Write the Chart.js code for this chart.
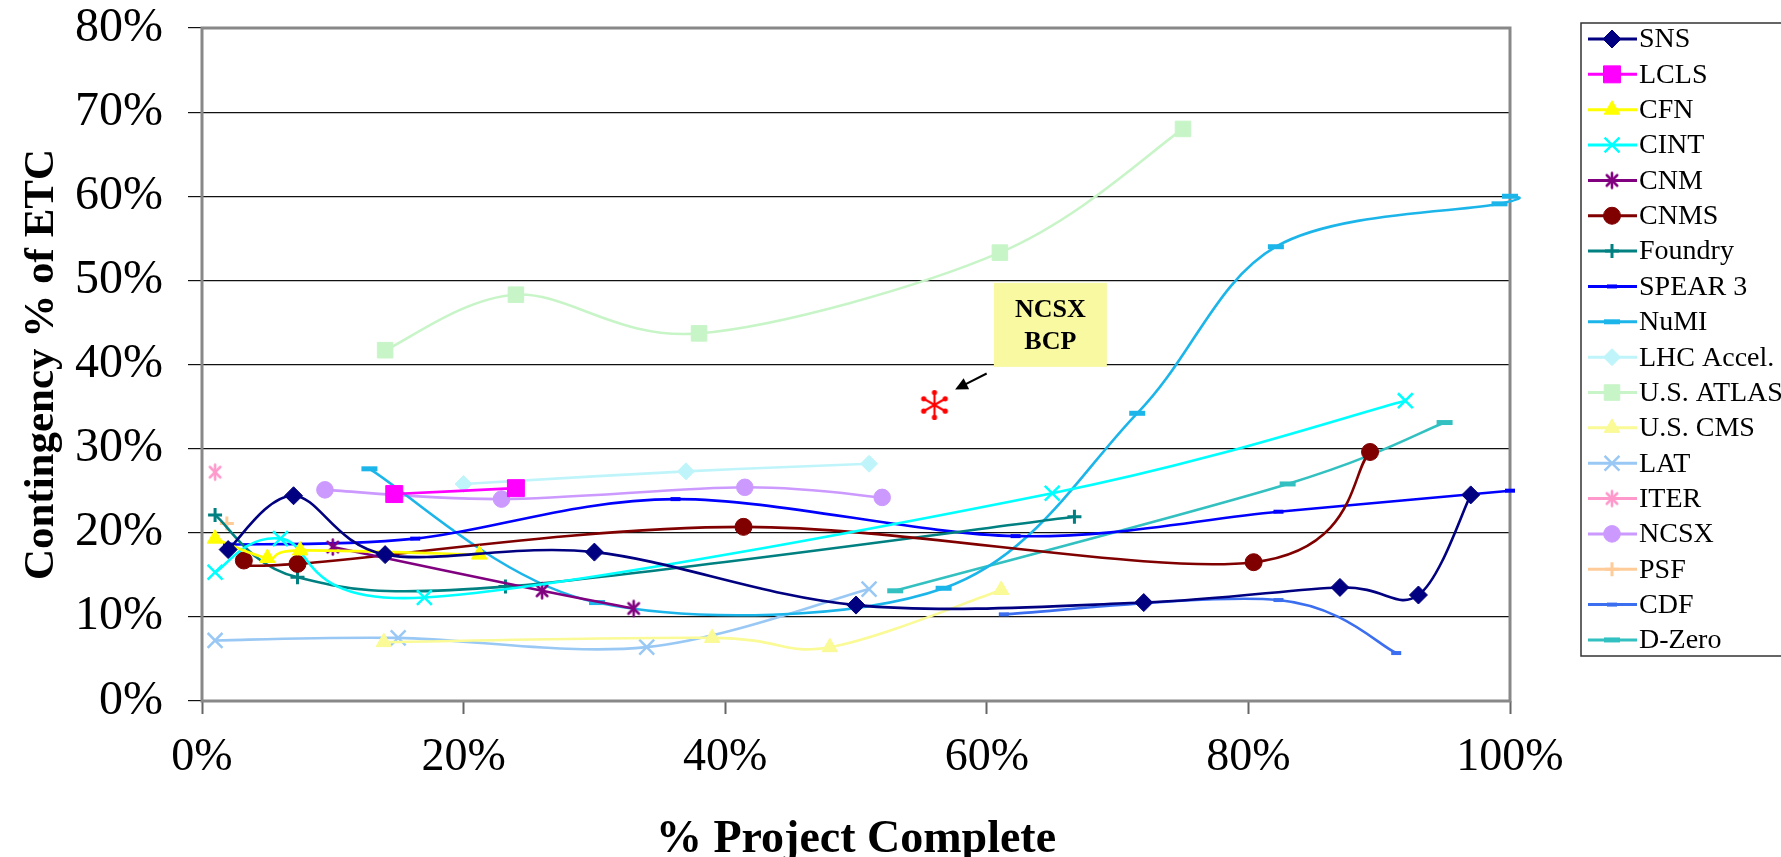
<!DOCTYPE html>
<html>
<head>
<meta charset="utf-8">
<title>Contingency vs % complete</title>
<script src="https://cdn.jsdelivr.net/npm/chart.js@4.4.1/dist/chart.umd.min.js"></script>
<style>
  html, body { margin: 0; padding: 0; background: #fff; }
  #wrap { width: 1781px; height: 857px; }
</style>
</head>
<body>
<div id="wrap"><canvas id="chart" width="1781" height="857"></canvas></div>
<script>
// project names, in legend order
const seriesNames = ['SNS', 'LCLS', 'CFN', 'CINT', 'CNM', 'CNMS', 'Foundry', 'SPEAR 3', 'NuMI',
  'LHC Accel.', 'U.S. ATLAS', 'U.S. CMS', 'LAT', 'ITER', 'NCSX', 'PSF', 'CDF', 'D-Zero'];

// x = % project complete, y = contingency % of ETC
const snsX = [2, 7, 14, 30, 50, 72, 87, 93, 97];
const snsY = [18.0, 24.4, 17.4, 17.7, 11.4, 11.7, 13.5, 12.6, 24.5];
const lclsX = [14.7, 24];
const lclsY = [24.6, 25.3];
const cfnX = [1, 5, 7.5, 21.2];
const cfnY = [19.3, 17.0, 17.9, 17.4];
const cintX = [1, 6, 17, 65, 92];
const cintY = [15.3, 19.3, 12.3, 24.7, 35.7];
const cnmX = [10, 26, 33];
const cnmY = [18.3, 13.1, 11.0];
const cnmsX = [3.2, 7.3, 41.4, 80.4, 89.3];
const cnmsY = [16.7, 16.3, 20.7, 16.5, 29.6];
const foundryX = [1, 7.3, 23.2, 66.7];
const foundryY = [22.1, 14.7, 13.6, 21.9];
const spearX = [2, 16.3, 36.2, 62.2, 82.3, 100];
const spearY = [18.6, 19.3, 24.0, 19.6, 22.5, 25.0];
const numiX = [12.8, 30.2, 56.7, 71.5, 82.1, 99.2, 100];
const numiY = [27.6, 11.7, 13.4, 34.2, 54.0, 59.1, 60.0];
const lhcX = [20, 37, 51];
const lhcY = [25.8, 27.3, 28.2];
const atlasX = [14, 24, 38, 61, 75];
const atlasY = [41.7, 48.3, 43.7, 53.3, 68.0];
const cmsX = [13.9, 39, 48, 61.1];
const cmsY = [7.0, 7.5, 6.4, 13.2];
const latX = [1, 15, 34, 51];
const latY = [7.2, 7.5, 6.4, 13.3];
const iterX = [1];
const iterY = [27.2];
const ncsxX = [9.4, 22.9, 41.5, 52];
const ncsxY = [25.1, 24.0, 25.4, 24.2];
const psfX = [1.9];
const psfY = [21.1];
const cdfX = [61.3, 82.3, 91.3];
const cdfY = [10.3, 12.0, 5.7];
const dzeroX = [53, 83, 95];
const dzeroY = [13.1, 25.8, 33.1];

// the NCSX baseline point and its call-out
const bcpX = [56];
const bcpY = [35.2];
const bcpText = ['NCSX', 'BCP'];
const bcpBoxAt = [64.86, 44.71];
const bcpArrowFrom = [59.99, 38.93];
const bcpArrowTo = [57.58, 37.03];

const xTickValues = [0, 20, 40, 60, 80, 100];
const yTickValues = [0, 10, 20, 30, 40, 50, 60, 70, 80];

const allX = [snsX, lclsX, cfnX, cintX, cnmX, cnmsX, foundryX, spearX, numiX, lhcX, atlasX, cmsX, latX, iterX, ncsxX, psfX, cdfX, dzeroX];
const allY = [snsY, lclsY, cfnY, cintY, cnmY, cnmsY, foundryY, spearY, numiY, lhcY, atlasY, cmsY, latY, iterY, ncsxY, psfY, cdfY, dzeroY];

// styles (old Excel palette)
const lineColors = ['#000080', '#FF00FF', '#FFFF00', '#00FFFF', '#800080', '#800000', '#008080', '#0000FF', '#1CB5EA',
  '#BFF5FA', '#C8F5C8', '#FAFA96', '#99C8F5', '#FF99CC', '#CC99FF', '#FFCC99', '#3C6EF0', '#33C0C0'];

function asterisk(color, size, angles, lw, tip) {
  const c = document.createElement('canvas');
  c.width = c.height = size;
  const g = c.getContext('2d');
  g.translate(size / 2, size / 2);
  g.strokeStyle = color;
  g.fillStyle = color;
  g.lineWidth = lw;
  g.lineCap = 'round';
  const r = size / 2 - Math.max(lw, tip);
  angles.forEach(a => {
    const dx = Math.cos(a * Math.PI / 180) * r, dy = Math.sin(a * Math.PI / 180) * r;
    g.beginPath();
    g.moveTo(-dx, -dy);
    g.lineTo(dx, dy);
    g.stroke();
    if (tip) {
      g.beginPath(); g.arc(dx, dy, tip, 0, Math.PI * 2); g.fill();
      g.beginPath(); g.arc(-dx, -dy, tip, 0, Math.PI * 2); g.fill();
    }
  });
  return c;
}

const markerStyles = ['rectRot', 'rect', 'triangle', 'crossRot', asterisk('#800080', 20, [90, 45, 135], 2.6, 0), 'circle',
  'cross', 'line', 'line', 'rectRot', 'rect', 'triangle', 'crossRot', asterisk('#FF99CC', 20, [90, 45, 135], 2.6, 0),
  'circle', 'cross', 'line', 'line'];
const markerSizes = [9, 12, 9, 10.5, 9, 8.5, 7, 5, 8, 8.5, 11, 9, 10.5, 9, 8.3, 7, 5, 8];
const markerBorders = [1, 1, 1, 2.5, 1, 1, 3, 4, 5, 1, 1, 1, 2.5, 1, 1, 3, 4, 5];

const bcpStar = asterisk('#FF0000', 30, [90, 30, 150], 2.2, 2.6);

// Excel style smoothing: uniform Catmull-Rom control points
const excelSmooth = {
  id: 'excelSmooth',
  beforeDatasetDraw(chart, args) {
    const line = args.meta.dataset;
    const pts = args.meta.data;
    if (!line || pts.length < 2) return;
    for (let i = 0; i < pts.length; i++) {
      const a = pts[Math.max(i - 1, 0)], p = pts[i], b = pts[Math.min(i + 1, pts.length - 1)];
      const dx = (b.x - a.x) / 6, dy = (b.y - a.y) / 6;
      p.cp1x = p.x - dx; p.cp1y = p.y - dy;
      p.cp2x = p.x + dx; p.cp2y = p.y + dy;
    }
    line._pointsUpdated = true;
  }
};

const plotFrame = {
  id: 'plotFrame',
  beforeDatasetsDraw(chart) {
    const { ctx, chartArea: a } = chart;
    ctx.save();
    ctx.strokeStyle = '#888';
    ctx.lineWidth = 3;
    ctx.strokeRect(a.left, a.top, a.right - a.left, a.bottom - a.top);
    ctx.restore();
  }
};

const bcpNote = {
  id: 'bcpNote',
  afterDatasetsDraw(chart) {
    const { ctx, scales: { x, y } } = chart;
    const cx = x.getPixelForValue(bcpBoxAt[0]), cy = y.getPixelForValue(bcpBoxAt[1]);
    ctx.save();
    ctx.fillStyle = '#F9F9A2';
    ctx.fillRect(cx - 56.5, cy - 42, 113, 84);
    ctx.fillStyle = '#000';
    ctx.font = 'bold 26px "Liberation Serif"';
    ctx.textAlign = 'center';
    ctx.textBaseline = 'middle';
    ctx.fillText(bcpText[0], cx, cy - 15);
    ctx.fillText(bcpText[1], cx, cy + 17);

    const x1 = x.getPixelForValue(bcpArrowFrom[0]), y1 = y.getPixelForValue(bcpArrowFrom[1]);
    const x2 = x.getPixelForValue(bcpArrowTo[0]), y2 = y.getPixelForValue(bcpArrowTo[1]);
    const ang = Math.atan2(y2 - y1, x2 - x1);
    ctx.strokeStyle = '#000';
    ctx.lineWidth = 2;
    ctx.beginPath();
    ctx.moveTo(x1, y1);
    ctx.lineTo(x2 - Math.cos(ang) * 8, y2 - Math.sin(ang) * 8);
    ctx.stroke();
    ctx.beginPath();
    ctx.moveTo(x2, y2);
    ctx.lineTo(x2 - Math.cos(ang - 0.45) * 14, y2 - Math.sin(ang - 0.45) * 14);
    ctx.lineTo(x2 - Math.cos(ang + 0.45) * 14, y2 - Math.sin(ang + 0.45) * 14);
    ctx.closePath();
    ctx.fill();
    ctx.restore();
  }
};

const sideLegend = {
  id: 'sideLegend',
  afterDraw(chart) {
    const ctx = chart.ctx;
    ctx.save();
    ctx.strokeStyle = '#333';
    ctx.lineWidth = 1.5;
    ctx.strokeRect(1581, 23, 260, 633);
    ctx.font = '28px "Liberation Serif"';
    ctx.textBaseline = 'middle';
    chart.data.datasets.slice(0, seriesNames.length).forEach((ds, i) => {
      const ly = 39 + i * 35.35;
      ctx.strokeStyle = ds.borderColor;
      ctx.lineWidth = 3;
      ctx.beginPath();
      ctx.moveTo(1588, ly);
      ctx.lineTo(1637, ly);
      ctx.stroke();
      ctx.fillStyle = ds.pointBackgroundColor;
      ctx.strokeStyle = ds.pointBorderColor;
      ctx.lineWidth = ds.pointBorderWidth;
      Chart.helpers.drawPoint(ctx, { pointStyle: ds.pointStyle, radius: ds.pointRadius, borderWidth: ds.pointBorderWidth, rotation: 0 }, 1612, ly);
      ctx.fillStyle = '#000';
      ctx.fillText(ds.label, 1639, ly + 1);
    });
    ctx.restore();
  }
};

const datasets = seriesNames.map((name, i) => ({
  label: name,
  data: allX[i].map((x, j) => ({ x, y: allY[i][j] })),
  showLine: true,
  borderColor: lineColors[i],
  backgroundColor: lineColors[i],
  borderWidth: 2.6,
  tension: 0.4,
  clip: false,
  pointStyle: markerStyles[i],
  pointRadius: markerSizes[i],
  pointBorderWidth: markerBorders[i],
  pointBorderColor: lineColors[i],
  pointBackgroundColor: lineColors[i],
}));

datasets.push({
  label: 'NCSX BCP',
  data: bcpX.map((x, j) => ({ x, y: bcpY[j] })),
  showLine: false,
  clip: false,
  pointStyle: bcpStar,
  pointRadius: 14,
});

Chart.defaults.font.family = '"Liberation Serif", "Times New Roman", serif';
Chart.defaults.color = '#000';

new Chart(document.getElementById('chart'), {
  type: 'scatter',
  data: { datasets },
  options: {
    responsive: false,
    animation: false,
    devicePixelRatio: 1,
    layout: { padding: { top: 28, right: 271, left: 0, bottom: 0 } },
    plugins: {
      legend: { display: false },
      tooltip: { enabled: false },
    },
    scales: {
      x: {
        type: 'linear',
        min: 0,
        max: 100,
        afterBuildTicks: s => { s.ticks = xTickValues.map(v => ({ value: v })); },
        afterFit: s => { s.height = 156; },
        ticks: { callback: v => v + '%', font: { size: 46 }, padding: 16, maxRotation: 0, color: '#000' },
        grid: { drawOnChartArea: false, tickLength: 13, tickColor: '#666', tickWidth: 2 },
        border: { display: false },
        title: {
          display: true,
          text: '% Project Complete',
          font: { size: 46, weight: 'bold', lineHeight: 0.7 },
          padding: { top: 0, bottom: 1 },
          color: '#000',
        },
      },
      y: {
        type: 'linear',
        min: 0,
        max: 80,
        afterBuildTicks: s => { s.ticks = yTickValues.map(v => ({ value: v })); },
        afterFit: s => {
          s.width = 202;
          // keep the top of the plot where the layout padding puts it
          s.paddingTop = 0;
          s.paddingBottom = 0;
        },
        ticks: { callback: v => v + '%', font: { size: 48 }, padding: 25, color: '#000' },
        grid: { color: '#111', lineWidth: 1.2, tickLength: 14, tickColor: '#111' },
        border: { display: false },
        title: {
          display: true,
          text: 'Contingency % of ETC',
          font: { size: 43, weight: 'bold', lineHeight: 1 },
          padding: { top: 20, bottom: 0 },
          color: '#000',
        },
      },
    },
  },
  plugins: [excelSmooth, plotFrame, bcpNote, sideLegend],
});
</script>
</body>
</html>
